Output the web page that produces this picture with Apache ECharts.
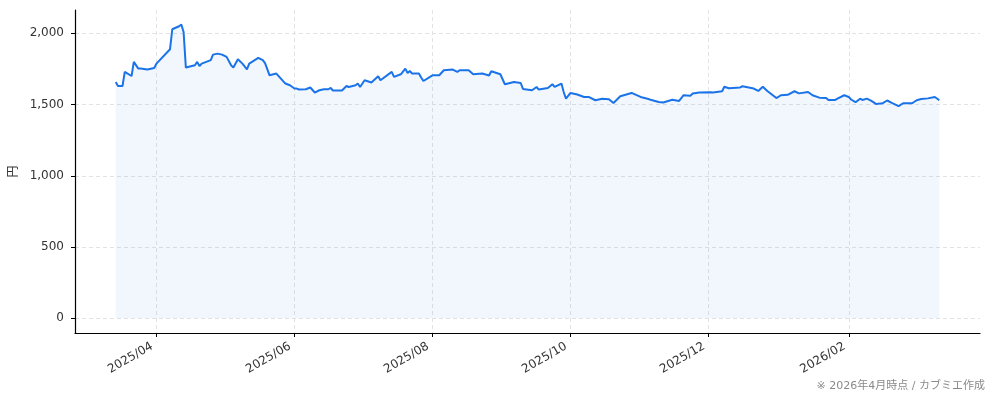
<!DOCTYPE html>
<html>
<head>
<meta charset="utf-8">
<script src="https://cdn.jsdelivr.net/npm/echarts@6/dist/echarts.min.js"></script>
<style>
html,body{margin:0;padding:0;background:#fff;}
#c{width:994px;height:401px;}
</style>
</head>
<body>
<div id="c"></div>
<script>
const dates = ['2025-03-14','2025-03-15','2025-03-17','2025-03-18','2025-03-21','2025-03-22','2025-03-24','2025-03-25','2025-03-28','2025-03-31',
'2025-04-01','2025-04-07','2025-04-08','2025-04-11','2025-04-12','2025-04-13','2025-04-14','2025-04-18','2025-04-19','2025-04-20',
'2025-04-21','2025-04-25','2025-04-26','2025-04-28','2025-04-30','2025-05-02','2025-05-04','2025-05-05','2025-05-07','2025-05-09',
'2025-05-11','2025-05-12','2025-05-16','2025-05-18','2025-05-19','2025-05-21','2025-05-24','2025-05-26','2025-05-28','2025-05-30',
'2025-06-01','2025-06-02','2025-06-03','2025-06-06','2025-06-08','2025-06-10','2025-06-12','2025-06-14','2025-06-16','2025-06-17',
'2025-06-18','2025-06-22','2025-06-24','2025-06-25','2025-06-28','2025-06-29','2025-06-30','2025-07-02','2025-07-05','2025-07-08',
'2025-07-09','2025-07-14','2025-07-15','2025-07-18','2025-07-20','2025-07-21','2025-07-22','2025-07-23','2025-07-26','2025-07-27',
'2025-07-28','2025-08-01','2025-08-04','2025-08-06','2025-08-10','2025-08-12','2025-08-13','2025-08-17','2025-08-19','2025-08-23',
'2025-08-26','2025-08-27','2025-08-31','2025-09-02','2025-09-06','2025-09-09','2025-09-10','2025-09-14','2025-09-16','2025-09-17',
'2025-09-21','2025-09-23','2025-09-24','2025-09-27','2025-09-28','2025-09-29','2025-10-01','2025-10-04','2025-10-07','2025-10-09',
'2025-10-12','2025-10-15','2025-10-18','2025-10-20','2025-10-23','2025-10-28','2025-11-01','2025-11-04','2025-11-05','2025-11-09',
'2025-11-11','2025-11-15','2025-11-18','2025-11-20','2025-11-23','2025-11-24','2025-11-27','2025-12-02','2025-12-03','2025-12-07',
'2025-12-08','2025-12-10','2025-12-15','2025-12-16','2025-12-21','2025-12-23','2025-12-25','2025-12-27','2025-12-30','2025-12-31',
'2026-01-02','2026-01-05','2026-01-08','2026-01-10','2026-01-14','2026-01-16','2026-01-19','2026-01-22','2026-01-23','2026-01-26',
'2026-01-27','2026-01-30','2026-02-01','2026-02-02','2026-02-04','2026-02-06','2026-02-07','2026-02-09','2026-02-11','2026-02-13',
'2026-02-16','2026-02-18','2026-02-20','2026-02-23','2026-02-25','2026-03-01','2026-03-03','2026-03-05','2026-03-08','2026-03-11',
'2026-03-12','2026-03-13'];

const prices = [1658,1630,1630,1729,1700,1799,1752,1752,1745,1756,
1787,1888,2028,2049,2061,2009,1759,1775,1799,1770,
1787,1811,1850,1857,1850,1834,1775,1759,1818,1787,
1747,1787,1827,1811,1790,1705,1717,1682,1647,1635,
1612,1612,1605,1607,1619,1584,1600,1607,1607,1616,
1598,1598,1630,1623,1635,1647,1623,1670,1654,1698,
1670,1729,1694,1712,1752,1721,1735,1717,1717,1690,
1665,1705,1705,1740,1745,1729,1740,1740,1712,1717,
1703,1733,1712,1642,1658,1651,1609,1600,1623,1605,
1616,1642,1623,1647,1588,1541,1581,1570,1553,1553,
1530,1541,1537,1511,1558,1581,1553,1541,1535,1518,
1514,1533,1525,1565,1562,1577,1584,1586,1584,1593,
1625,1614,1620,1628,1612,1595,1625,1595,1558,1545,
1565,1568,1593,1578,1588,1565,1548,1546,1532,1532,
1541,1565,1553,1535,1516,1541,1532,1541,1525,1504,
1509,1528,1512,1489,1509,1509,1530,1538,1543,1553,
1542,1530];

const xTickDates = ['2025-04-01','2025-06-01','2025-08-01','2025-10-01','2025-12-01','2026-02-01'];
const yTicks = [0, 500, 1000, 1500, 2000];
const xRange = ['2025-02-24', '2026-03-31'];
const yRange = [-103, 2163];
const yName = '円';
const footnote = '※ 2026年4月時点 / カブミエ作成';

function toMs(s) {
  const p = s.split('-').map(Number);
  return new Date(p[0], p[1] - 1, p[2]).getTime();
}
const seriesData = dates.map((d, i) => [toMs(d), prices[i]]);
const xTicks = xTickDates.map(toMs);

const FONT = '"DejaVu Sans", "Noto Sans CJK JP", sans-serif';
const chart = echarts.init(document.getElementById('c'), null, {renderer: 'canvas'});
chart.setOption({
  animation: false,
  backgroundColor: '#ffffff',
  grid: {left: 75, right: 14, top: 10, bottom: 68, containLabel: false, outerBoundsMode: 'none'},
  xAxis: {
    type: 'value',
    min: toMs(xRange[0]),
    max: toMs(xRange[1]),
    axisLine: {show: true, onZero: false, lineStyle: {color: '#000', width: 1.2}},
    axisTick: {show: true, length: 4, customValues: xTicks, lineStyle: {color: '#000'}},
    axisLabel: {
      customValues: xTicks,
      rotate: 30,
      margin: 10,
      padding: [0, 5, 0, 0],
      color: '#333',
      fontSize: 12,
      fontFamily: FONT,
      formatter: function (v) {
        const d = new Date(v);
        return d.getFullYear() + '/' + String(d.getMonth() + 1).padStart(2, '0');
      }
    },
    splitLine: {show: true, lineStyle: {color: '#e3e3e3', type: [4, 3], width: 1}}
  },
  yAxis: {
    type: 'value',
    min: yRange[0],
    max: yRange[1],
    name: yName,
    nameLocation: 'middle',
    nameRotate: 90,
    nameGap: 55,
    nameTextStyle: {color: '#333', fontSize: 12, fontFamily: '"Noto Sans CJK JP", sans-serif'},
    axisLine: {show: true, lineStyle: {color: '#000', width: 1.2}},
    axisTick: {show: true, length: 4, customValues: yTicks, lineStyle: {color: '#000'}},
    axisLabel: {
      customValues: yTicks,
      margin: 11,
      color: '#333',
      fontSize: 12,
      fontFamily: FONT,
      formatter: function (v) { return Number(v).toLocaleString('en-US'); }
    },
    splitLine: {show: true, lineStyle: {color: '#e3e3e3', type: [4, 3], width: 1}}
  },
  series: [{
    type: 'line',
    data: seriesData,
    showSymbol: false,
    symbol: 'none',
    lineStyle: {color: '#1a73e8', width: 2},
    areaStyle: {color: 'rgba(26,115,232,0.085)'},
    z: 3
  }],
  graphic: [{
    type: 'text',
    right: 9,
    bottom: 9,
    style: {text: footnote, fill: '#8a8a8a', fontSize: 11, fontFamily: FONT}
  }]
});
</script>
</body>
</html>
